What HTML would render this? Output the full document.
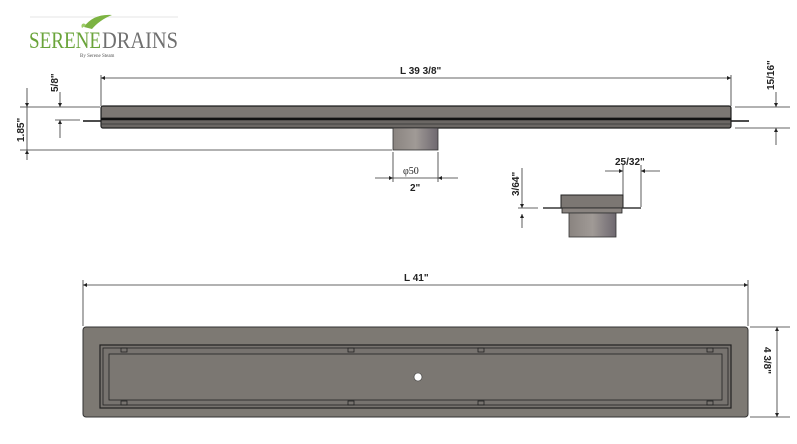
<!DOCTYPE html>
<html><head><meta charset="utf-8"><style>
body{margin:0;background:#fff;width:797px;height:444px;overflow:hidden}
svg{display:block}
text{font-family:"Liberation Sans",sans-serif;font-weight:bold;font-size:10px;fill:#222}
</style></head><body>
<svg width="797" height="444" viewBox="0 0 797 444">
<defs>
<marker id="a" viewBox="0 0 10 10" refX="10" refY="5" markerWidth="7" markerHeight="5" orient="auto-start-reverse"><path d="M0,0L10,5L0,10z" fill="#222"/></marker>
<linearGradient id="g" x1="0" x2="1"><stop offset="0" stop-color="#8a8480"/><stop offset="0.5" stop-color="#a09a96"/><stop offset="1" stop-color="#6e6870"/></linearGradient>
</defs>
<!-- logo -->
<line x1="30" y1="17" x2="178" y2="17" stroke="#e6e6e6"/>
<path d="M84,27 C90,18 100,14 112,15 C104,18 96,24 92,29 Z" fill="#7cb342"/>
<path d="M82,28 C80,24 84,22 86,25 Z" fill="#9ccc65"/>
<text x="29" y="48" textLength="72" lengthAdjust="spacingAndGlyphs" style="font-family:'Liberation Serif',serif;font-weight:normal;font-size:23px;fill:#6aa43a">SERENE</text>
<text x="102" y="48" textLength="76" lengthAdjust="spacingAndGlyphs" style="font-family:'Liberation Serif',serif;font-weight:normal;font-size:23px;fill:#707070">DRAINS</text>
<text x="80" y="57" style="font-family:'Liberation Serif',serif;font-weight:normal;font-size:5px;fill:#555">By Serene Steam</text>
<g stroke="#333" stroke-width="0.8" fill="none">
<line x1="101" y1="75" x2="101" y2="106"/><line x1="731" y1="75" x2="731" y2="106"/>
<line x1="101" y1="78" x2="731" y2="78" marker-start="url(#a)" marker-end="url(#a)"/>
<line x1="20" y1="107" x2="100" y2="107"/><line x1="20" y1="150" x2="392" y2="150"/>
<line x1="27" y1="88" x2="27" y2="107" marker-end="url(#a)"/><line x1="27" y1="150" x2="27" y2="160" marker-start="url(#a)"/>
<line x1="27" y1="107" x2="27" y2="150"/>
<line x1="60" y1="92" x2="60" y2="107" marker-end="url(#a)"/><line x1="60" y1="120" x2="60" y2="138" marker-start="url(#a)"/>
<line x1="55" y1="120" x2="80" y2="120"/>
<line x1="735" y1="107" x2="790" y2="107"/><line x1="735" y1="128" x2="790" y2="128"/>
<line x1="776" y1="92" x2="776" y2="107" marker-end="url(#a)"/><line x1="776" y1="128" x2="776" y2="145" marker-start="url(#a)"/>
<line x1="393" y1="152" x2="393" y2="182"/><line x1="438" y1="152" x2="438" y2="182"/>
<line x1="375" y1="178" x2="393" y2="178" marker-end="url(#a)"/><line x1="458" y1="178" x2="438" y2="178" marker-end="url(#a)"/>
<line x1="393" y1="178" x2="438" y2="178"/>
<line x1="522" y1="168" x2="522" y2="208" marker-end="url(#a)"/><line x1="522" y1="214" x2="522" y2="228" marker-start="url(#a)"/>
<line x1="518" y1="208" x2="538" y2="208"/>
<line x1="605" y1="171" x2="623" y2="171" marker-end="url(#a)"/><line x1="660" y1="171" x2="641" y2="171" marker-end="url(#a)"/>
<line x1="623" y1="165" x2="623" y2="195"/><line x1="641" y1="165" x2="641" y2="207"/>
<line x1="83" y1="280" x2="83" y2="326"/><line x1="748" y1="280" x2="748" y2="326"/>
<line x1="83" y1="285" x2="748" y2="285" marker-start="url(#a)" marker-end="url(#a)"/>
<line x1="750" y1="327" x2="790" y2="327"/><line x1="750" y1="417" x2="790" y2="417"/>
<line x1="777" y1="327" x2="777" y2="417" marker-start="url(#a)" marker-end="url(#a)"/>
</g>
<line x1="83" y1="121" x2="101" y2="121" stroke="#111" stroke-width="1.5"/>
<line x1="731" y1="121" x2="749" y2="121" stroke="#111" stroke-width="1.5"/>
<rect x="101" y="106" width="630" height="22" rx="2" fill="#6b6764" stroke="#222" stroke-width="1.2"/>
<rect x="102" y="107" width="628" height="10" fill="#7c7773"/>
<line x1="101" y1="119" x2="731" y2="119" stroke="#111" stroke-width="2.5"/>
<line x1="101" y1="124" x2="731" y2="124" stroke="#333" stroke-width="0.8"/>
<rect x="393" y="128" width="45" height="22" fill="url(#g)" stroke="#333" stroke-width="0.8"/>
<line x1="543" y1="208" x2="641" y2="208" stroke="#111" stroke-width="1.2"/>
<rect x="561" y="195" width="62" height="13" fill="#7c7773" stroke="#222"/>
<rect x="562" y="208" width="60" height="5" fill="#8a8480" stroke="#222" stroke-width="0.8"/>
<rect x="569" y="213" width="47" height="24" fill="url(#g)" stroke="#333" stroke-width="0.8"/>
<rect x="83" y="327" width="665" height="90" rx="3" fill="#7d7973" stroke="#333" stroke-width="1"/>
<rect x="100" y="345" width="631" height="63" fill="#77736f" stroke="#222" stroke-width="1.2"/>
<rect x="103" y="348" width="625" height="57" fill="none" stroke="#222" stroke-width="0.8"/>
<rect x="109" y="354" width="613" height="46" fill="#7b7772" stroke="#222" stroke-width="0.8"/>
<g stroke="#222" stroke-width="0.8" fill="none">
<rect x="121" y="348" width="6" height="4"/><rect x="348" y="348" width="6" height="4"/><rect x="478" y="348" width="6" height="4"/><rect x="707" y="348" width="6" height="4"/>
<rect x="121" y="401" width="6" height="4"/><rect x="348" y="401" width="6" height="4"/><rect x="478" y="401" width="6" height="4"/><rect x="707" y="401" width="6" height="4"/>
</g>
<circle cx="418" cy="377" r="4" fill="#fff" stroke="#333" stroke-width="0.6"/>
<text x="400" y="74">L  39 3/8"</text>
<text x="404" y="281">L  41"</text>
<text x="403" y="174" style="font-family:'Liberation Serif',serif;font-weight:normal;font-size:10px">φ50</text>
<text x="410" y="191">2"</text>
<text x="615" y="165">25/32"</text>
<text transform="translate(24,142) rotate(-90)">1.85"</text>
<text transform="translate(58,92) rotate(-90)">5/8"</text>
<text transform="translate(774,90) rotate(-90)">15/16"</text>
<text transform="translate(519,196) rotate(-90)">3/64"</text>
<text transform="translate(764,347) rotate(90)">4 3/8"</text>
</svg>
</body></html>
